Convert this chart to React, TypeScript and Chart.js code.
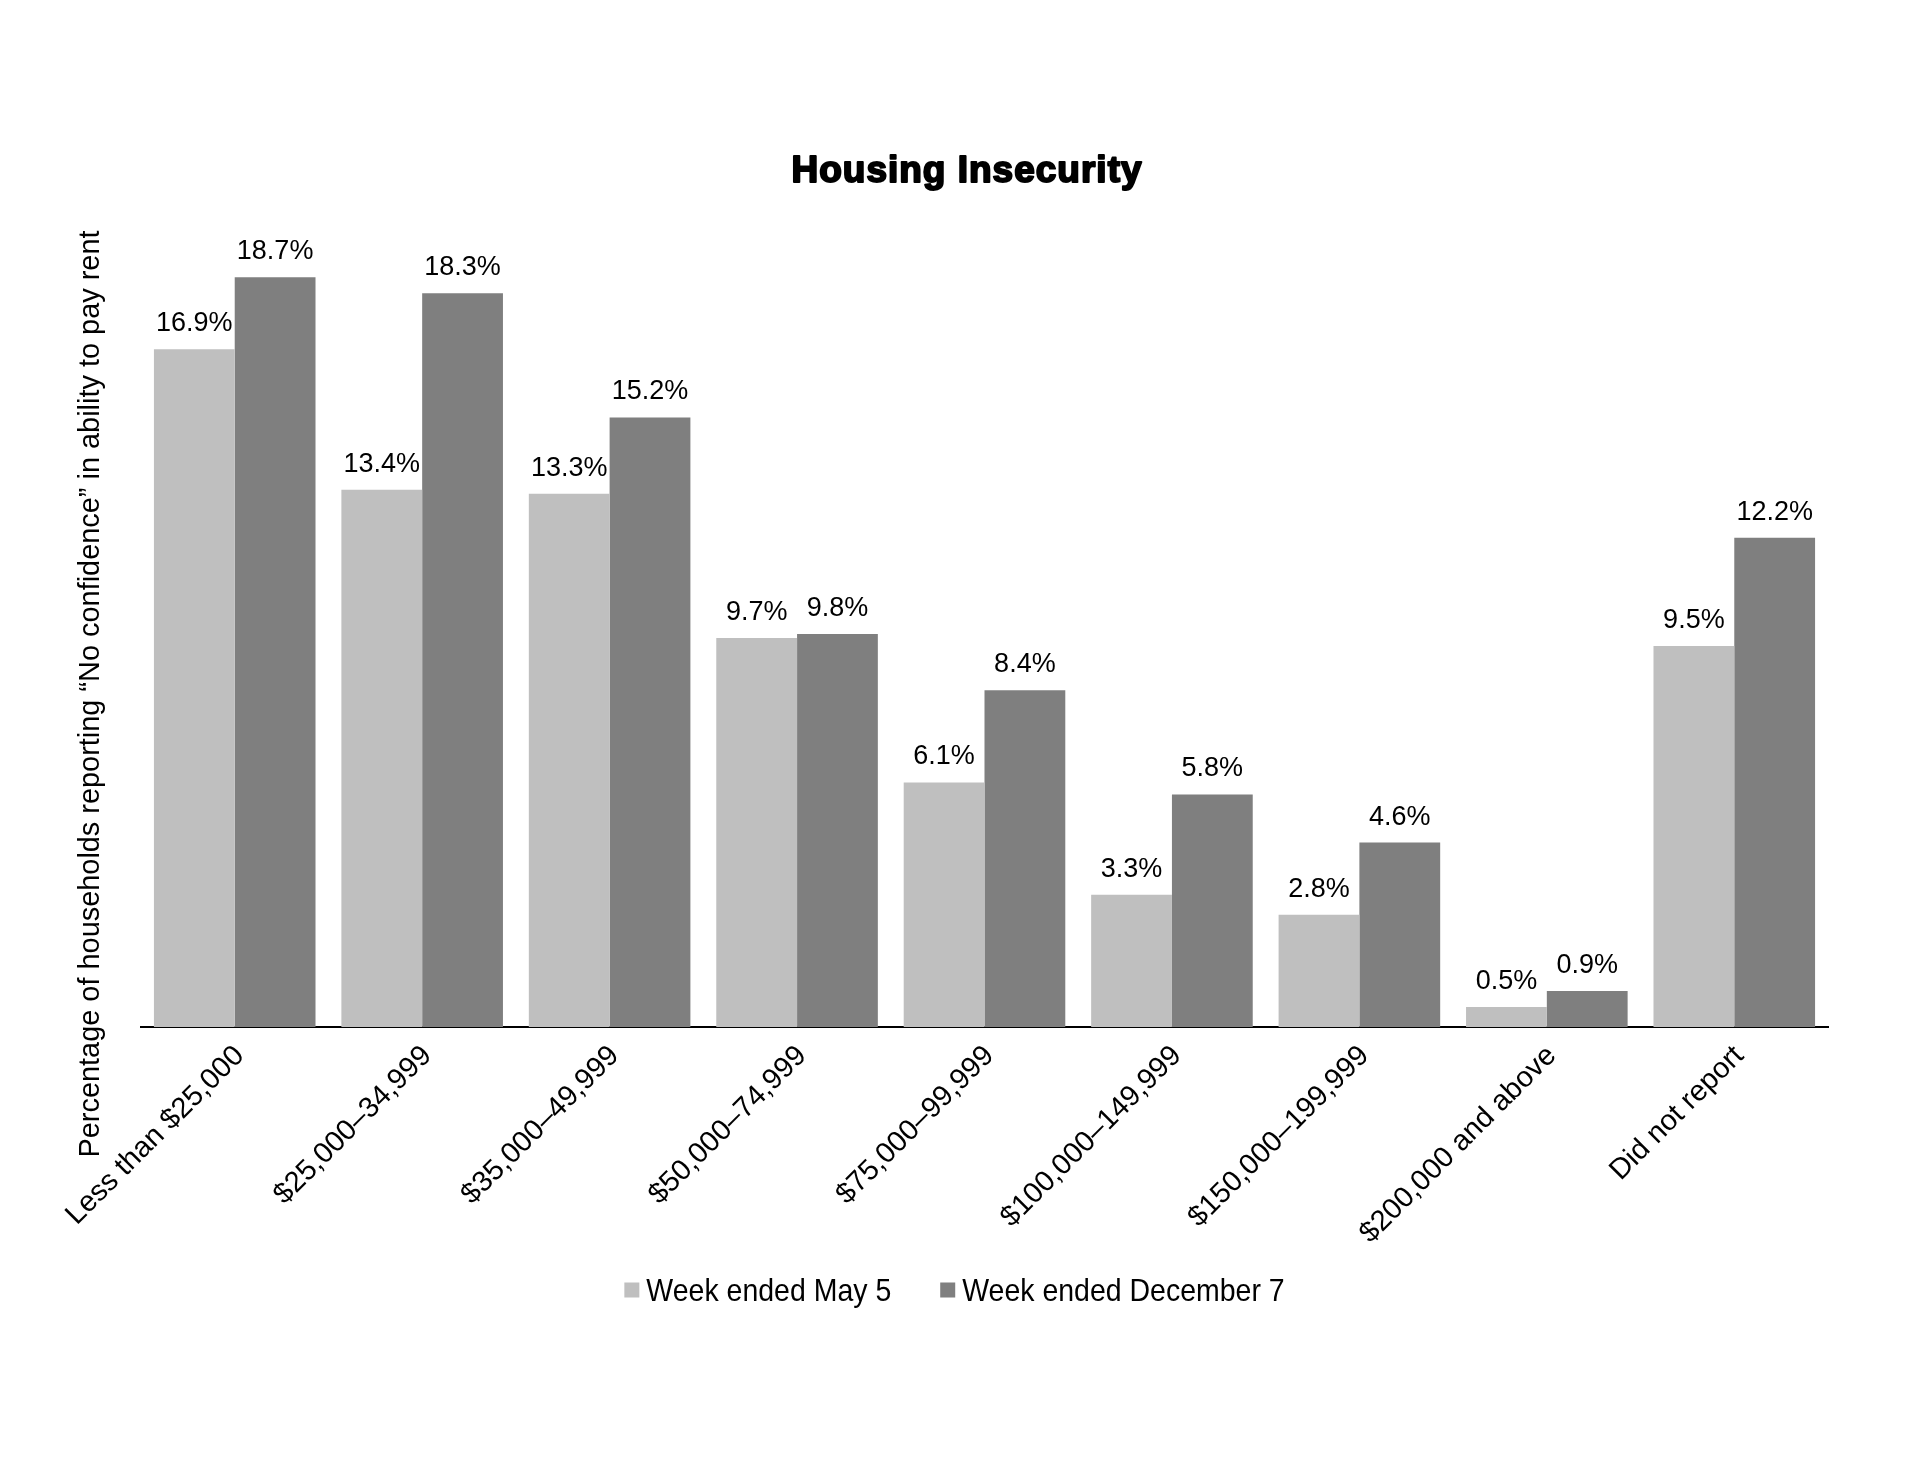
import React, { useEffect, useRef } from "react";
import { Chart, registerables } from "chart.js";

Chart.register(...registerables);

const categories = [
  "Less than $25,000",
  "$25,000–34,999",
  "$35,000–49,999",
  "$50,000–74,999",
  "$75,000–99,999",
  "$100,000–149,999",
  "$150,000–199,999",
  "$200,000 and above",
  "Did not report",
];
const mayValues = [16.9, 13.4, 13.3, 9.7, 6.1, 3.3, 2.8, 0.5, 9.5];
const decValues = [18.7, 18.3, 15.2, 9.8, 8.4, 5.8, 4.6, 0.9, 12.2];
const seriesNames = ["Week ended May 5", "Week ended December 7"];
const seriesColors = ["#bfbfbf", "#7f7f7f"];
const chartTitle = "Housing Insecurity";
const yTitle = "Percentage of households reporting “No confidence” in ability to pay rent";

const W = 1920;
const H = 1483;
const AXIS_Y = 1027;

const decorPlugin = {
  id: "decor",
  afterDatasetsDraw(chart: any) {
    const ctx = chart.ctx;
    ctx.save();
    ctx.fillStyle = "#000";
    ctx.font = "27px 'Liberation Sans', Arial, sans-serif";
    ctx.textAlign = "center";
    ctx.textBaseline = "alphabetic";
    chart.data.datasets.forEach((ds: any, i: number) => {
      const meta = chart.getDatasetMeta(i);
      meta.data.forEach((bar: any, j: number) => {
        ctx.fillText(ds.data[j].toFixed(1) + "%", bar.x, bar.y - 18);
      });
    });
    ctx.restore();
  },
  afterDraw(chart: any) {
    const ctx = chart.ctx;
    ctx.save();
    // Title (heavy)
    ctx.fillStyle = "#000";
    ctx.strokeStyle = "#000";
    ctx.lineWidth = 2;
    ctx.lineJoin = "round";
    ctx.font = "bold 37px 'Liberation Sans', Arial, sans-serif";
    try {
      (ctx as any).letterSpacing = "1px";
    } catch (e) {}
    ctx.textAlign = "center";
    ctx.textBaseline = "alphabetic";
    ctx.fillText(chartTitle, 967, 182);
    ctx.strokeText(chartTitle, 967, 182);
    try {
      (ctx as any).letterSpacing = "0px";
    } catch (e) {}

    // Y-axis title (condensed)
    ctx.save();
    ctx.translate(91, 694);
    ctx.rotate(-Math.PI / 2);
    ctx.font = "30px 'Liberation Sans', Arial, sans-serif";
    const tw = ctx.measureText(yTitle).width;
    const sx = 927 / tw;
    ctx.scale(sx, 1);
    ctx.textAlign = "center";
    ctx.textBaseline = "middle";
    ctx.fillText(yTitle, 0, 0);
    ctx.restore();

    // Legend (condensed text)
    const squeeze = 0.89;
    ctx.font = "32px 'Liberation Sans', Arial, sans-serif";
    const box = 15;
    const gapBoxText = 7;
    const gapItems = 49;
    const widths = seriesNames.map((n) => ctx.measureText(n).width * squeeze);
    const total =
      widths.reduce((a, b) => a + b, 0) +
      seriesNames.length * (box + gapBoxText) +
      gapItems * (seriesNames.length - 1);
    let x = 954.5 - total / 2;
    const cy = 1290;
    seriesNames.forEach((n, i) => {
      ctx.fillStyle = seriesColors[i];
      ctx.fillRect(x, cy - box / 2, box, box);
      x += box + gapBoxText;
      ctx.save();
      ctx.translate(x, cy + 11);
      ctx.scale(squeeze, 1);
      ctx.fillStyle = "#000";
      ctx.textAlign = "left";
      ctx.textBaseline = "alphabetic";
      ctx.fillText(n, 0, 0);
      ctx.restore();
      x += widths[i] + gapItems;
    });
    ctx.restore();
  },
};

export default function App() {
  const ref = useRef<HTMLCanvasElement | null>(null);
  useEffect(() => {
    if (!ref.current) return;
    const chart = new Chart(ref.current, {
      type: "bar",
      data: {
        labels: categories,
        datasets: [
          {
            label: seriesNames[0],
            data: mayValues,
            backgroundColor: seriesColors[0],
            barPercentage: 1,
            categoryPercentage: 0.862,
          },
          {
            label: seriesNames[1],
            data: decValues,
            backgroundColor: seriesColors[1],
            barPercentage: 1,
            categoryPercentage: 0.862,
          },
        ],
      },
      options: {
        responsive: false,
        animation: false,
        events: [],
        layout: { padding: { top: 225, left: 141, right: 92, bottom: 0 } },
        plugins: {
          legend: { display: false },
          title: { display: false },
          tooltip: { enabled: false },
        },
        scales: {
          x: {
            grid: { display: false, drawTicks: false },
            border: { display: true, color: "#000", width: 2 },
            ticks: {
              color: "#000",
              font: { family: "'Liberation Sans', Arial, sans-serif", size: 29 },
              minRotation: 45,
              maxRotation: 45,
              autoSkip: false,
              padding: 12,
              labelOffset: 5,
            },
            afterFit: (scale: any) => {
              scale.height = H - AXIS_Y;
            },
          },
          y: {
            display: false,
            min: 0,
            max: 20,
          },
        },
      },
      plugins: [decorPlugin],
    });
    return () => chart.destroy();
  }, []);
  return (
    <div style={{ position: "absolute", left: 0, top: 0, width: W, height: H, background: "#fff" }}>
      <canvas ref={ref} width={W} height={H} style={{ width: W, height: H, display: "block" }} />
    </div>
  );
}
